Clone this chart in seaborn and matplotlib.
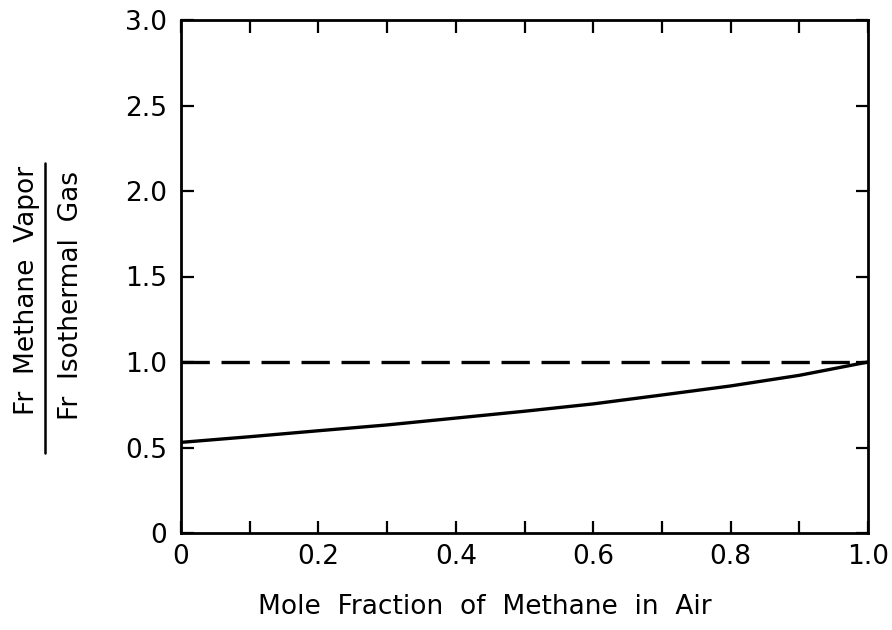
import matplotlib
matplotlib.use("Agg")
import matplotlib.pyplot as plt
from matplotlib.lines import Line2D
import seaborn as sns
import pandas as pd

# Mole fraction of methane in air and the Froude-number ratio
mole_fraction = [0.0, 0.1, 0.2, 0.3, 0.4, 0.5, 0.6, 0.7, 0.8, 0.9, 1.0]
fr_ratio = [0.53, 0.563, 0.598, 0.632, 0.672, 0.712, 0.755, 0.807, 0.86, 0.922, 1.0]

# Isothermal-gas reference level
reference_x = [0.0, 1.0]
reference_y = [1.0, 1.0]

x_tick_labels = ["0", "0.2", "0.4", "0.6", "0.8", "1.0"]
y_ticks = [0.0, 0.5, 1.0, 1.5, 2.0, 2.5, 3.0]
y_tick_labels = ["0", "0.5", "1.0", "1.5", "2.0", "2.5", "3.0"]

sns.set_theme(style="ticks")
plt.rcParams["font.family"] = ["DejaVu Sans"]
plt.rcParams["text.color"] = "black"

W, H = 892, 630
fig = plt.figure(figsize=(W / 100, H / 100), dpi=100)
ax = fig.add_axes([181 / W, 1 - 533 / H, (868 - 181) / W, (533 - 20) / H])

curve = pd.DataFrame({"x": mole_fraction, "y": fr_ratio})
ref = pd.DataFrame({"x": reference_x, "y": reference_y})

sns.lineplot(data=curve, x="x", y="y", ax=ax, color="black", linewidth=2.4)
sns.lineplot(data=ref, x="x", y="y", ax=ax, color="black", linewidth=2.4,
             linestyle=(0, (8.5, 3.5)))

ax.set_xlim(0, 1.0)
ax.set_ylim(0, 3.0)
ax.set_xticks([i / 10 for i in range(11)])
ax.set_xticklabels([x_tick_labels[i // 2] if i % 2 == 0 else "" for i in range(11)])
ax.set_yticks(y_ticks)
ax.set_yticklabels(y_tick_labels)

ax.tick_params(axis="both", direction="in", length=9, width=1.6, color="black",
               labelsize=19, labelcolor="black", top=True, right=True)
ax.tick_params(axis="x", pad=8)
ax.tick_params(axis="y", pad=10)

for s in ax.spines.values():
    s.set_visible(True)
    s.set_linewidth(2.0)
    s.set_color("black")

ax.set_xlabel("")
ax.set_ylabel("")

fig.text(485 / W, 1 - 607 / H, "Mole  Fraction  of  Methane  in  Air",
         ha="center", va="center", fontsize=19, color="black")

# y-axis label drawn as a ratio
fig.text(27 / W, 1 - 290 / H, "Fr  Methane  Vapor", rotation=90,
         ha="center", va="center", fontsize=19, color="black")
fig.text(71 / W, 1 - 296 / H, "Fr  Isothermal  Gas", rotation=90,
         ha="center", va="center", fontsize=19, color="black")
fig.add_artist(Line2D([45 / W, 45 / W], [1 - 163 / H, 1 - 453 / H],
                      transform=fig.transFigure, color="black", linewidth=1.8))

fig.savefig("out.png", dpi=100)
